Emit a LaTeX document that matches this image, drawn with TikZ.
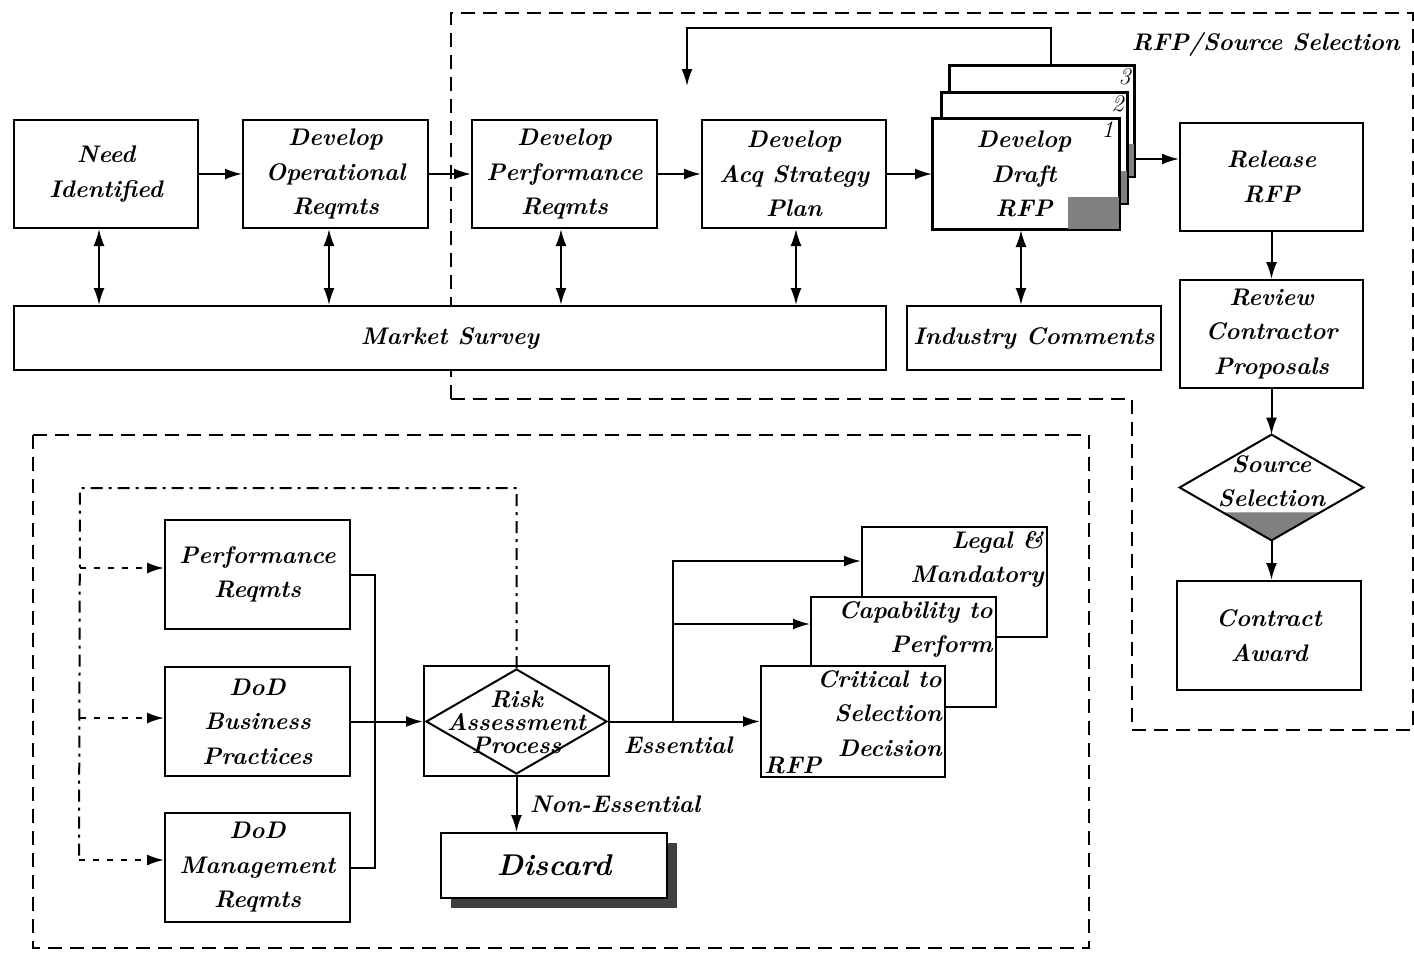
\documentclass[tikz,border=0pt]{standalone}
\usetikzlibrary{arrows.meta,shapes.geometric,calc,shadows}
\newcommand\lbf{\fontsize{12}{17.25}\selectfont\bfseries\itshape}
\newcommand\riskf{\fontsize{12}{11.5}\selectfont\bfseries\itshape}
\newcommand\discf{\fontsize{15}{18}\selectfont\bfseries\itshape}
\newcommand\numf{\fontsize{12}{12}\selectfont\itshape}
\begin{document}
\begin{tikzpicture}[x=0.5pt,y=-0.5pt,
  box/.style={draw,line width=1pt,fill=white,inner sep=0pt,align=center,font=\lbf},
  arr/.style={line width=1pt,-{Latex[length=8.5pt,width=5.5pt]}},
  darr/.style={line width=1pt,{Latex[length=8.5pt,width=5.5pt]}-{Latex[length=8.5pt,width=5.5pt]}},
  region/.style={line width=1pt,dash pattern=on 7pt off 4pt},
  dashdot/.style={line width=1pt,dash pattern=on 6pt off 3pt on 1.5pt off 3pt},
  darrow/.style={line width=1pt,dash pattern=on 3pt off 4pt,-{Latex[length=8.5pt,width=5.5pt]}},
  lab/.style={font=\lbf,inner sep=0pt},
  num/.style={font=\numf,inner sep=0pt,anchor=north east},
  gray fill/.style={fill=black!50}]
\useasboundingbox (0,0) rectangle (1414,954);
% regions
\draw[region] (451,399) -- (451,13) -- (1413,13) -- (1413,730) -- (1132,730) -- (1132,399) -- cycle;
\draw[region] (33,435) rectangle (1089,948);
\node[lab,anchor=east] (rfplab) at (1400,44) {RFP/Source Selection};
% top row
\node[box,minimum width=92pt,minimum height=54pt] (need) at (106,174) {Need\\Identified};
\node[box,minimum width=92.5pt,minimum height=54pt] (devop) at (335.5,174) {Develop\\Operational\\Reqmts};
\node[box,minimum width=92.5pt,minimum height=54pt] (devperf) at (564.5,174) {Develop\\Performance\\Reqmts};
\node[box,minimum width=92pt,minimum height=54pt] (acq) at (794,174) {Develop\\Acq Strategy\\Plan};
% draft RFP pages
\node[box,minimum width=92pt,minimum height=55pt] (p3) at (1042,121) {};
\fill[gray fill] ($(p3.south east)+(-52,-33)$) rectangle (p3.south east);
\draw[line width=1pt] (p3.south west) rectangle (p3.north east);
\node[num] at ($(p3.north east)+(-4,3)$) {3};
\node[box,minimum width=92.5pt,minimum height=55pt] (p2) at (1034.5,148) {};
\fill[gray fill] ($(p2.south east)+(-52,-33)$) rectangle (p2.south east);
\draw[line width=1pt] (p2.south west) rectangle (p2.north east);
\node[num] at ($(p2.north east)+(-4,3)$) {2};
\node[box,minimum width=93pt,minimum height=55pt] (p1) at (1026,174) {};
\fill[gray fill] ($(p1.south east)+(-52,-33)$) rectangle (p1.south east);
\draw[line width=1pt] (p1.south west) rectangle (p1.north east);
\node[num] at ($(p1.north east)+(-6,3)$) {1};
\node[lab,align=center] (p1txt) at ($(p1.center)+(-2,0)$) {Develop\\Draft\\RFP};
% right column
\node[box,minimum width=91.5pt,minimum height=54pt] (release) at (1271.5,177) {Release\\RFP};
\node[box,minimum width=91.5pt,minimum height=54pt] (review) at (1271.5,334) {Review\\Contractor\\Proposals};
\node[diamond,minimum width=91.5pt,minimum height=52.5pt,inner sep=0pt,fill=white] (src) at (1271.5,487.5) {};
\fill[gray fill] ($(src.south)+(-48,-28)$) -- ($(src.south)+(48,-28)$) -- (src.south) -- cycle;
\draw[line width=1pt] (src.north) -- (src.east) -- (src.south) -- (src.west) -- cycle;
\node[lab,align=center] (srctxt) at ($(src.center)+(0,-6)$) {Source\\Selection};
\node[box,minimum width=92pt,minimum height=54.5pt] (contract) at (1269,635.5) {Contract\\Award};
% survey bars
\node[box,minimum width=436pt,minimum height=32pt] (market) at (450,338) {Market Survey};
\node[box,minimum width=127pt,minimum height=32pt] (industry) at (1034,338) {Industry Comments};
% lower section
\node[box,minimum width=92.5pt,minimum height=54.5pt] (perf) at (257.5,574.5) {Performance\\Reqmts};
\node[box,minimum width=92.5pt,minimum height=54.5pt] (bus) at (257.5,721.5) {DoD\\Business\\Practices};
\node[box,minimum width=92.5pt,minimum height=54.5pt] (mgmt) at (257.5,867.5) {DoD\\Management\\Reqmts};
\node[box,minimum width=92.5pt,minimum height=55pt] (riskbox) at (516.5,721) {};
\node[diamond,draw,line width=1pt,minimum width=90.5pt,minimum height=52.5pt,inner sep=0pt] (rdia) at (516.5,721.5) {};
\node[font=\riskf,inner sep=0pt,align=center] (risktxt) at (516.5,722) {Risk\\Assessment\\Process};
\node[box,font=\discf,minimum width=113pt,minimum height=32.5pt,drop shadow={shadow xshift=5pt,shadow yshift=-5pt,fill=black,opacity=0.75}] (discard) at (554,865.5) {Discard};
\node[box,minimum width=92.5pt,minimum height=55pt] (legal) at (954.5,582) {};
\node[lab,anchor=north east,align=right] (legaltxt) at ($(legal.north east)+(-4,5)$) {Legal \&\\Mandatory};
\node[box,minimum width=92.5pt,minimum height=55pt] (capab) at (903.5,652) {};
\node[lab,anchor=north east,align=right] (capabtxt) at ($(capab.north east)+(-4,5)$) {Capability to\\Perform};
\node[box,minimum width=92pt,minimum height=55.5pt] (crit) at (853,721.5) {};
\node[lab,anchor=north east,align=right] (crittxt) at ($(crit.north east)+(-4,5)$) {Critical to\\Selection\\Decision};
\node[lab,anchor=south west] (rfptxt) at ($(crit.south west)+(4,-4)$) {RFP};
% top connectors
\draw[arr] (need.east) -- (devop.west);
\draw[arr] (devop.east) -- (devperf.west);
\draw[arr] (devperf.east) -- (acq.west);
\draw[arr] (acq.east) -- (p1.west);
\coordinate (rfpout) at ($(p3.south east)+(0,-18)$);
\draw[arr] (rfpout) -- (rfpout -| release.west);
\draw[arr] (release.south) -- (review.north);
\draw[arr] (review.south) -- (src.north);
\draw[arr] (src.south) -- (src.south |- contract.north);
\coordinate (n1) at ($(need.south)+(-7,0)$);
\draw[darr] (n1) -- (n1 |- market.north);
\coordinate (n2) at ($(devop.south)+(-6.5,0)$);
\draw[darr] (n2) -- (n2 |- market.north);
\coordinate (n3) at ($(devperf.south)+(-3.5,0)$);
\draw[darr] (n3) -- (n3 |- market.north);
\coordinate (n4) at ($(acq.south)+(2,0)$);
\draw[darr] (n4) -- (n4 |- market.north);
\coordinate (n5) at ($(p1.south)+(-5,0)$);
\draw[darr] (n5) -- (n5 |- industry.north);
\coordinate (fb0) at ($(p3.north)+(9,0)$);
\coordinate (fbend) at (687,86);
\draw[arr] (fb0) -- ++(0,-37) -| (fbend);
% lower connectors
\draw[line width=1pt] (perf.east) -- ++(24,0) |- (mgmt.east);
\draw[arr] (bus.east) -- (bus.east -| riskbox.west);
\draw[arr] (rdia.south) -- (rdia.south |- discard.north);
\node[lab,anchor=west] (nonlab) at ($(rdia.south)+(13,29)$) {Non-Essential};
\draw[arr] (rdia.east) -- (crit.west);
\node[lab] (esslab) at ($(rdia.east)+(70,24)$) {Essential};
\coordinate (br) at ($(rdia.east)+(65,0)$);
\draw[arr] (br) |- ([yshift=10.5pt]legal.west);
\draw[arr] (br) |- ([yshift=14pt]capab.west);
\coordinate (lt) at (80,488);
\coordinate (lb) at ($(mgmt.west)+(-85,-7.5)$);
\draw[dashdot] (rdia.north) |- (lt) -- (lb);
\draw[darrow] (lb) -- (lb -| mgmt.west);
\coordinate (l1) at ($(perf.west)+(0,-6.5)$);
\draw[darrow] (l1 -| lt) -- (l1);
\coordinate (l2) at ($(bus.west)+(0,-3.5)$);
\draw[darrow] (l2 -| lt) -- (l2);
\end{tikzpicture}
\end{document}
